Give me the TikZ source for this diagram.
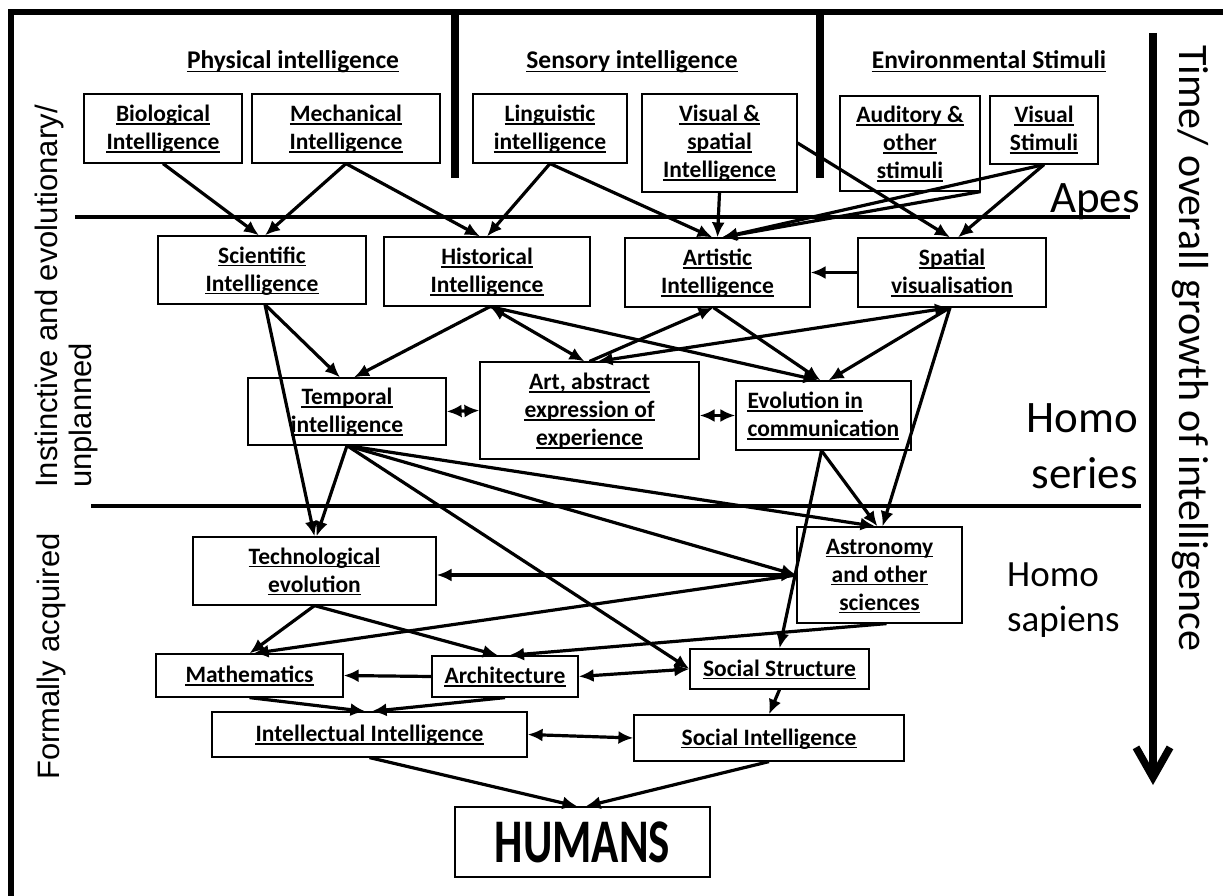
\documentclass[tikz,border=0pt]{standalone}
\usepackage{fontspec}
\usepackage{graphicx}
\setmainfont{Carlito}
\newfontfamily\arialfont{Liberation Sans}
\usetikzlibrary{arrows.meta}

% underlined text lines, stacked in the box #1 (#2 lines)
\newcommand{\boxtext}[3]{%
  \foreach \t [count=\i] in {#3}{
    \node[ul] (#1\i) at ([yshift={14*#2+7-28*\i}]#1.center) {\t};
    \draw[uline] ([yshift=-2.4pt]#1\i.base west) -- ([yshift=-2.4pt]#1\i.base east);}}

\begin{document}
\begin{tikzpicture}[x=1pt,y=-1pt]
      \tikzstyle{box}=[draw,line width=1.2pt,inner sep=0pt]
      \tikzstyle{ul}=[inner sep=0pt,anchor=base,font=\bfseries\fontsize{23.5}{28}\selectfont]
      \tikzstyle{uline}=[line width=1.8pt]
      \tikzstyle{era}=[inner sep=0pt,font=\fontsize{45}{56}\selectfont]
      \tikzstyle{side}=[inner sep=0pt,rotate=90,anchor=north west,align=left,
        font=\arialfont\fontsize{31}{34}\selectfont]

      \useasboundingbox (0,0) rectangle (1223,896);

      % frame and dividers
      \draw[line width=5.5pt] (11,896) -- (11,12) -- (1223,12);
      \draw[line width=7.5pt] (455,12) -- (455,178);
      \draw[line width=7.5pt] (820,12) -- (820,178);
      \draw[line width=3.3pt] (75,217) -- (1130,217);
      \draw[line width=3.3pt] (91,506) -- (1141,506);
      \draw[line width=7.5pt,-{Straight Barb[length=30pt,width=34pt]}] (1153,33) -- (1153,785);

      \node[ul,font=\bfseries\fontsize{25.5}{30}\selectfont] (PhysH) at (293,69) {Physical intelligence};
      \node[ul,font=\bfseries\fontsize{25.5}{30}\selectfont] (SensH) at (632,69) {Sensory intelligence};
      \node[ul,font=\bfseries\fontsize{25.5}{30}\selectfont] (EnvH)  at (989,69) {Environmental Stimuli};
      \draw[uline] ([yshift=-2.6pt]PhysH.base west) -- ([yshift=-2.6pt]PhysH.base east);
      \draw[uline] ([yshift=-2.6pt]SensH.base west) -- ([yshift=-2.6pt]SensH.base east);
      \draw[uline] ([yshift=-2.6pt]EnvH.base west) -- ([yshift=-2.6pt]EnvH.base east);

      \node[side] (Instinct) at (35,488) {Instinctive and evolutionary/\\unplanned};
      \node[side] (Formal)   at (37,780) {Formally acquired};
      \node[inner sep=0pt,rotate=-90,anchor=north west,
        font=\fontsize{42}{48}\selectfont] (Time) at (1209,45)
        {Time/ overall growth of intelligence};

      \node[era,anchor=base east] (Apes) at (1140,212) {Apes};
      \node[era,anchor=east,align=right] (HomoSer) at (1138,446) {Homo\\series};
      \node[inner sep=0pt,anchor=west,align=left,
        font=\fontsize{37}{45}\selectfont] (HomoSap) at (1007,600) {Homo\\sapiens};

      \node[box][minimum width=158pt,minimum height=69pt] (Bio)      at (163,128.5)   {};
      \node[box][minimum width=188pt,minimum height=69pt] (Mech)     at (346,128.5)   {};
      \node[box][minimum width=154pt,minimum height=69pt] (Ling)     at (550,128.5)   {};
      \node[box][minimum width=155pt,minimum height=98pt] (VisSp)    at (719.5,143)   {};
      \node[box][minimum width=140pt,minimum height=95pt] (Aud)      at (910,143.5)   {};
      \node[box][minimum width=108pt,minimum height=68pt] (VisStim)  at (1044,130)    {};
      \node[box][minimum width=208pt,minimum height=68pt] (Sci)      at (262,270)     {};
      \node[box][minimum width=206pt,minimum height=69pt] (Hist)     at (487,271.5)   {};
      \node[box][minimum width=185pt,minimum height=69pt] (Artistic) at (717.5,272.5) {};
      \node[box][minimum width=188pt,minimum height=69pt] (Spatial)  at (952,272.5)   {};
      \node[box][minimum width=198pt,minimum height=67pt] (Temporal) at (347,411.5)   {};
      \node[box][minimum width=219pt,minimum height=97pt] (Art)      at (589.5,410.5) {};
      \node[box][minimum width=175pt,minimum height=69pt] (Evol)     at (823.5,415.5) {};
      \node[box][minimum width=243pt,minimum height=68pt] (Tech)     at (314.5,571)   {};
      \node[box][minimum width=165pt,minimum height=96pt] (Astro)    at (879.5,575)   {};
      \node[box][minimum width=187pt,minimum height=43pt] (Math)     at (249.5,675.5) {};
      \node[box][minimum width=146pt,minimum height=41pt] (Arch)     at (505,676.5)   {};
      \node[box][minimum width=179pt,minimum height=40pt] (SocStr)   at (779.5,669)   {};
      \node[box][minimum width=315pt,minimum height=45pt] (Intel)    at (369.5,734.5) {};
      \node[box][minimum width=270pt,minimum height=46pt] (SocInt)   at (769,738)     {};
      \node[box][minimum width=255pt,minimum height=70pt,
        font=\bfseries\fontsize{45}{50}\selectfont] (Humans) at (582.5,842) {\scalebox{1}[1.38]{HUMANS}};

      \boxtext{Bio}{2}{Biological,Intelligence}
      \boxtext{Mech}{2}{Mechanical,Intelligence}
      \boxtext{Ling}{2}{Linguistic,intelligence}
      \boxtext{VisSp}{3}{Visual \&,spatial,Intelligence}
      \boxtext{Aud}{3}{Auditory \&,other,stimuli}
      \boxtext{VisStim}{2}{Visual,Stimuli}
      \boxtext{Sci}{2}{Scientific,Intelligence}
      \boxtext{Hist}{2}{Historical,Intelligence}
      \boxtext{Artistic}{2}{Artistic,Intelligence}
      \boxtext{Spatial}{2}{Spatial,visualisation}
      \boxtext{Temporal}{2}{Temporal,intelligence}
      \boxtext{Art}{3}{{Art, abstract},expression of,experience}
      \boxtext{Tech}{2}{Technological,evolution}
      \boxtext{Astro}{3}{Astronomy,and other,sciences}
      \boxtext{Math}{1}{Mathematics}
      \boxtext{Arch}{1}{Architecture}
      \boxtext{SocStr}{1}{Social Structure}
      \boxtext{Intel}{1}{Intellectual Intelligence}
      \boxtext{SocInt}{1}{Social Intelligence}
      \node[ul,anchor=base west] (Evol1) at ([xshift=12pt,yshift=7pt]Evol.west)   {Evolution in};
      \node[ul,anchor=base west] (Evol2) at ([xshift=12pt,yshift=-21pt]Evol.west) {communication};
      \draw[uline] ([yshift=-2.4pt]Evol1.base west) -- ([yshift=-2.4pt]Evol1.base east);
      \draw[uline] ([yshift=-2.4pt]Evol2.base west) -- ([yshift=-2.4pt]Evol2.base east);

      \tikzstyle{ar}=[->,line width=3.2pt,>={Latex[length=15pt,width=13pt]}]
      \tikzstyle{bar}=[<->,line width=3.2pt,>={Latex[length=15pt,width=13pt]}]

      % apes
      \draw[ar] (Bio.south) -- ([xshift=-3pt]Sci.north);
      \draw[ar] (Mech.south) -- ([xshift=3pt]Sci.north);
      \draw[ar] (Mech.south) -- ([xshift=-7pt]Hist.north);
      \draw[ar] (Ling.south) -- (Hist.north);
      \draw[ar] (Ling.south) -- ([xshift=-5pt]Artistic.north);
      \draw[ar] (VisSp.south) -- (Artistic.north);
      \draw[ar] (VisSp.east) -- ([xshift=-2pt]Spatial.north);
      \draw[ar] (VisStim.south) -- ([xshift=5pt]Artistic.north);
      \draw[ar] (Aud.south east) -- ([xshift=4pt]Artistic.north);
      \draw[ar] (VisStim.south) -- ([xshift=6pt]Spatial.north);
      \draw[ar] (Spatial.west) -- (Artistic.east);

      % homo series
      \draw[ar] ([xshift=3pt]Sci.south) -- ([xshift=-7pt]Temporal.north);
      \draw[ar] ([xshift=3pt]Sci.south) -- (Tech.north);
      \draw[ar] ([xshift=3pt]Hist.south) -- ([xshift=7pt]Temporal.north);
      \draw[bar] ([xshift=3pt]Hist.south) -- ([xshift=-5pt]Art.north);
      \draw[ar] ([xshift=3pt]Hist.south) -- ([xshift=-5pt]Evol.north);
      \draw[ar] (Art.north) -- ([xshift=-4pt]Artistic.south);
      \draw[ar] ([xshift=-4pt]Artistic.south) -- ([xshift=-3pt]Evol.north);
      \draw[bar] ([xshift=-2pt]Spatial.south) -- ([xshift=8pt]Art.north);
      \draw[ar] ([xshift=-2pt]Spatial.south) -- ([xshift=5pt]Evol.north);
      \draw[ar] ([xshift=-2pt]Spatial.south) -- ([xshift=3pt]Astro.north);
      \draw[bar] (Temporal.east) -- (Art.west);
      \draw[bar] (Art.east |- Evol.west) -- (Evol.west);

      \draw[ar] (Temporal.south) -- ([xshift=2pt]Tech.north);
      \draw[ar] (Temporal.south) -- ([xshift=-4pt]Astro.north);
      \draw[ar] (Temporal.south) -- (Astro.west);
      \draw[ar] (Temporal.south) -- (SocStr.west);
      \draw[ar] ([xshift=-2pt]Evol.south) -- ([xshift=-2pt]Astro.north);
      \draw[ar] ([xshift=-2pt]Evol.south) -- (SocStr.north);

      % homo sapiens
      \draw[bar] (Astro.west) -- (Astro.west -| Tech.east);
      \draw[ar] (Astro.west) -- ([xshift=4pt]Math.north);
      \draw[ar] ([xshift=7pt]Astro.south) -- ([xshift=4pt]Arch.north);
      \draw[ar] (Tech.south) -- (Math.north);
      \draw[ar] (Tech.south) -- ([xshift=-7pt]Arch.north);
      \draw[ar] (Arch.west) -- (Math.east);
      \draw[bar] (SocStr.west) -- (Arch.east);
      \draw[ar] (SocStr.south) -- (SocInt.north);
      \draw[ar] (Math.south) -- ([xshift=-4pt]Intel.north);
      \draw[ar] (Arch.south) -- ([xshift=2pt]Intel.north);
      \draw[bar] (Intel.east) -- (SocInt.west);
      \draw[ar] (Intel.south) -- ([xshift=-5pt]Humans.north);
      \draw[ar] (SocInt.south) -- ([xshift=3pt]Humans.north);

\end{tikzpicture}
\end{document}
